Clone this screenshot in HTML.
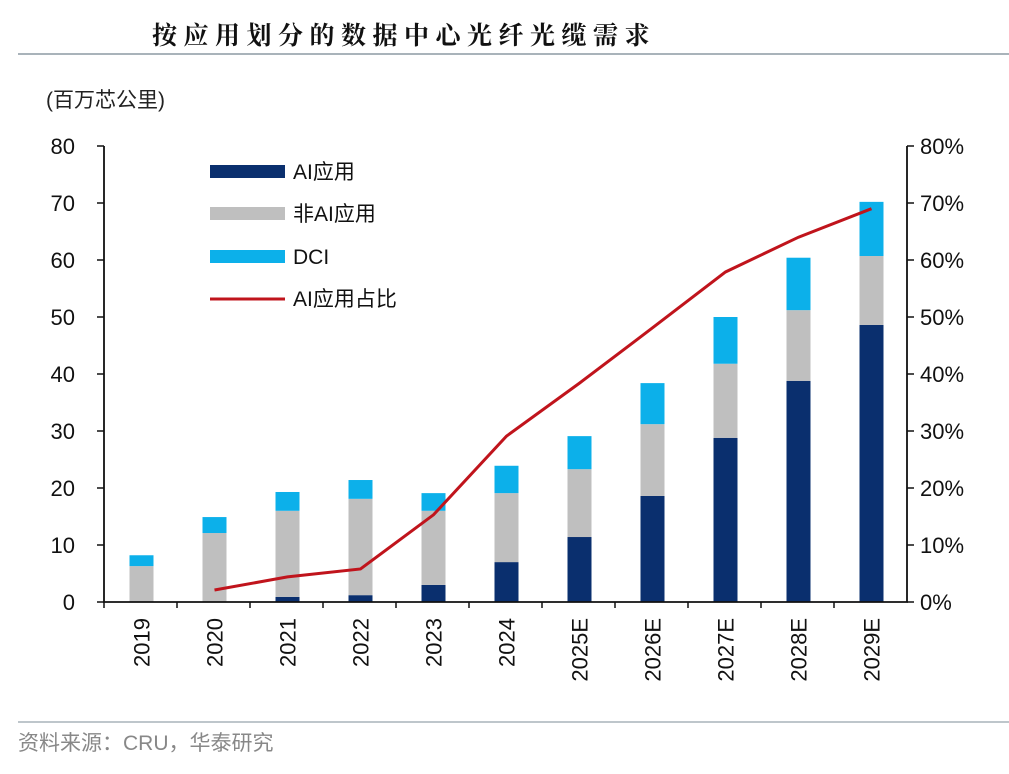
<!DOCTYPE html>
<html><head><meta charset="utf-8"><style>
html,body{margin:0;padding:0;background:#fff;}
svg text{font-family:"Liberation Sans","Noto Sans CJK SC",sans-serif;}
</style></head><body>
<svg id="c" width="1009" height="769" viewBox="0 0 1009 769" xmlns="http://www.w3.org/2000/svg">
<text x="152" y="44" font-size="25" font-weight="bold" fill="#111" letter-spacing="6.5" style="font-family:'Noto Serif CJK SC','Noto Sans CJK SC',serif">按应用划分的数据中心光纤光缆需求</text>
<line x1="18" y1="54" x2="1009" y2="54" stroke="#a9b3ba" stroke-width="2"/>
<text x="46" y="107" font-size="21" fill="#222">(百万芯公里)</text>
<line x1="18" y1="722" x2="1009" y2="722" stroke="#a9b3ba" stroke-width="1.5"/>
<text x="18" y="750" font-size="21" fill="#888">资料来源：CRU，华泰研究</text>
<g id="plot"></g>
<g>
<rect x="210" y="165" width="75" height="13" fill="#0a2f6e"/>
<text x="293" y="179" font-size="21" fill="#111">AI应用</text>
<rect x="210" y="207" width="75" height="13" fill="#bfbfbf"/>
<text x="293" y="221" font-size="21" fill="#111">非AI应用</text>
<rect x="210" y="250" width="75" height="13" fill="#0cb0ea"/>
<text x="293" y="264" font-size="21" fill="#111">DCI</text>
<line x1="210" y1="299" x2="285" y2="299" stroke="#c0141c" stroke-width="3"/>
<text x="293" y="306" font-size="21" fill="#111">AI应用占比</text>
</g>
</svg>
<script>
const categories=["2019","2020","2021","2022","2023","2024","2025E","2026E","2027E","2028E","2029E"];
const aiValues=[0,0,0.9,1.2,3.0,7.0,11.4,18.6,28.8,38.8,48.6];
const nonAiValues=[6.3,12.1,15.1,16.9,13.0,12.1,11.9,12.6,13.0,12.4,12.1];
const dciValues=[1.9,2.8,3.3,3.3,3.1,4.8,5.8,7.2,8.2,9.2,9.5];
const shareValues=[null,2.1,4.4,5.8,15.3,29.1,38.4,48.1,57.9,64.0,69.0];
const leftTicks=[0,10,20,30,40,50,60,70,80];
const rightTicks=[0,10,20,30,40,50,60,70,80];

const NS="http://www.w3.org/2000/svg";
const g=document.getElementById('plot');
const x0=104,x1=907,yb=602,yt=146;
const y=v=>yb-(v/80)*(yb-yt);
const yr=v=>yb-(v/80)*(yb-yt);
const step=(x1-x0)/categories.length;
const xc=i=>x0+step*(i+0.5)+1;
const bw=24;
function mk(t,a){const e=document.createElementNS(NS,t);for(const k in a)e.setAttribute(k,a[k]);g.appendChild(e);return e;}

leftTicks.forEach(v=>{
 const l=mk('line',{x1:97,x2:x0,y1:y(v),y2:y(v),stroke:'#111','stroke-width':1.5});
 
 
 const t=mk('text',{x:75,y:y(v)+8,'font-size':22,'text-anchor':'end',fill:'#111'});
 t.textContent=v;
 
 
});
rightTicks.forEach(v=>{
 const l=mk('line',{x1:x1,x2:x1+7,y1:yr(v),y2:yr(v),stroke:'#111','stroke-width':1.5});
 
 
 const t=mk('text',{x:920,y:yr(v)+8,'font-size':22,fill:'#111'});
 t.textContent=v+'%';
 
 
});
categories.forEach((c,i)=>{
 const cx=xc(i);
 let base=0;
 [[aiValues[i],'#0a2f6e','bar-ai'],[nonAiValues[i],'#bfbfbf','bar-nonai'],[dciValues[i],'#0cb0ea','bar-dci']].forEach(([v,col,n])=>{
  if(v>0){const r=mk('rect',{x:cx-bw/2,y:y(base+v),width:bw,height:y(base)-y(base+v),fill:col});
  
  }
  base+=v;
 });
 const t=mk('text',{transform:`translate(${cx+8},${618}) rotate(-90)`,'font-size':22,'text-anchor':'end',fill:'#111'});
 t.textContent=c;
 
 
 const tk=mk('line',{x1:x0+step*i,x2:x0+step*i,y1:yb,y2:yb+6,stroke:'#111','stroke-width':1.5});
 
 
});
const ax=mk('path',{d:`M${x0},${yt}V${yb}H${x1}V${yt}`,fill:'none',stroke:'#111','stroke-width':1.8});


let d='';
shareValues.forEach((v,i)=>{if(v!==null)d+=(d?'L':'M')+xc(i)+','+yr(v);});
const ln=mk('path',{d:d,fill:'none',stroke:'#c0141c','stroke-width':3});


</script>
</body></html>
